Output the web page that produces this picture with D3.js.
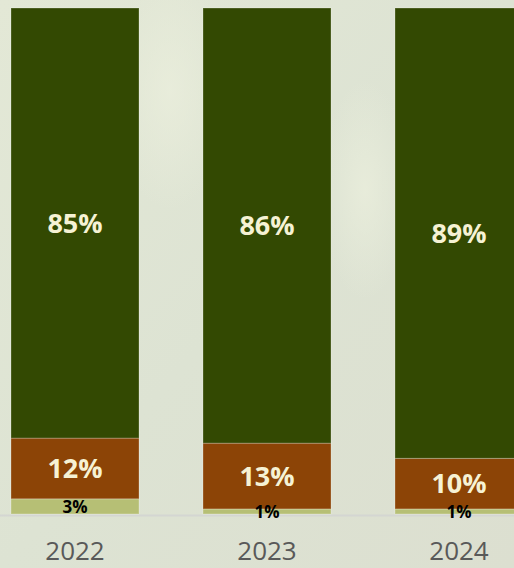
<!DOCTYPE html>
<html>
<head>
<meta charset="utf-8">
<script src="https://cdn.jsdelivr.net/npm/d3@7"></script>
<style>
  html, body { margin: 0; padding: 0; background: #dde2d2; }
  #graphicContainer { width: 514px; height: 568px; overflow: hidden; }
</style>
</head>
<body>
<div id="graphicContainer"></div>
<script>

// data

var years = ["2022", "2023", "2024"];
var share_top = [85, 86, 89];
var share_mid = [12, 13, 10];
var share_low = [3, 1, 1];

var keys = ["low", "mid", "top"];
var colour_choices = { top: "#334902", mid: "#8c4406", low: "#b6bf75" };

function draw_bars() {

		var width = 514, height = 568;

		var data = years.map((y, i) => ({ year: y, low: share_low[i], mid: share_mid[i], top: share_top[i] }));

		var svg = d3.select("#graphicContainer").append("svg")
			.attr("width", width)
			.attr("height", height);

		// soft photo-like background

		var defs = svg.append("defs");
		var bg = defs.append("linearGradient").attr("id", "bg").attr("x1", 0).attr("y1", 0).attr("x2", 1).attr("y2", 1);
		bg.append("stop").attr("offset", "0%").attr("stop-color", "#e3e8d6");
		bg.append("stop").attr("offset", "50%").attr("stop-color", "#dde3d3");
		bg.append("stop").attr("offset", "100%").attr("stop-color", "#dcdfd0");

		var glow = defs.append("radialGradient").attr("id", "glow");
		glow.append("stop").attr("offset", "0%").attr("stop-color", "#eaeedc").attr("stop-opacity", 0.8);
		glow.append("stop").attr("offset", "100%").attr("stop-color", "#eaeedc").attr("stop-opacity", 0);

		svg.append("rect").attr("width", width).attr("height", height).attr("fill", "url(#bg)");
		svg.append("ellipse").attr("cx", 170).attr("cy", 90).attr("rx", 60).attr("ry", 120).attr("fill", "url(#glow)");
		svg.append("ellipse").attr("cx", 365).attr("cy", 190).attr("rx", 45).attr("ry", 110).attr("fill", "url(#glow)");

		// scales

		var x = d3.scaleBand()
			.domain(years)
			.range([11, 523])
			.paddingInner(1 / 3)
			.paddingOuter(0);

		var y = d3.scaleLinear()
			.domain([0, 100])
			.range([514, 8]);

		var stacked = d3.stack().keys(keys)(data);

		// baseline

		svg.append("line")
			.attr("x1", 0).attr("x2", width)
			.attr("y1", y(0) + 1.5).attr("y2", y(0) + 1.5)
			.attr("stroke", "#d4d6d2")
			.attr("stroke-width", 2);

		// bars

		var layers = svg.append("g")
			.selectAll("g")
			.data(stacked)
			.enter()
			.append("g")
			.attr("fill", d => colour_choices[d.key]);

		layers.selectAll("rect")
			.data(d => d)
			.enter()
			.append("rect")
			.attr("x", d => x(d.data.year))
			.attr("y", d => y(d[1]))
			.attr("width", x.bandwidth())
			.attr("height", d => y(d[0]) - y(d[1]))
			.attr("stroke", "rgba(255,255,255,0.25)")
			.attr("stroke-width", 1);

		// labels go on top of every bar

		var labels = svg.append("g")
			.selectAll("g")
			.data(stacked)
			.enter()
			.append("g");

		labels.each(function(layer) {
			var big = layer.key != "low";
			d3.select(this).selectAll("text")
				.data(layer)
				.enter()
				.append("text")
				.attr("x", d => x(d.data.year) + x.bandwidth() / 2)
				.attr("y", d => (y(d[0]) + y(d[1])) / 2)
				.attr("dy", "0.36em")
				.attr("text-anchor", "middle")
				.attr("font-family", "'Open Sans', sans-serif")
				.attr("font-weight", "bold")
				.attr("font-size", big ? 27 : 17)
				.attr("fill", big ? "#f6f2d4" : "#000000")
				.text(d => (d[1] - d[0]) + "%");
		});

		// x axis labels

		svg.append("g")
			.selectAll("text")
			.data(years)
			.enter()
			.append("text")
			.attr("x", d => x(d) + x.bandwidth() / 2)
			.attr("y", 560)
			.attr("text-anchor", "middle")
			.attr("font-family", "'Open Sans', sans-serif")
			.attr("font-size", 26)
			.attr("fill", "#595959")
			.text(d => d);
}

draw_bars();

</script>
</body>
</html>
